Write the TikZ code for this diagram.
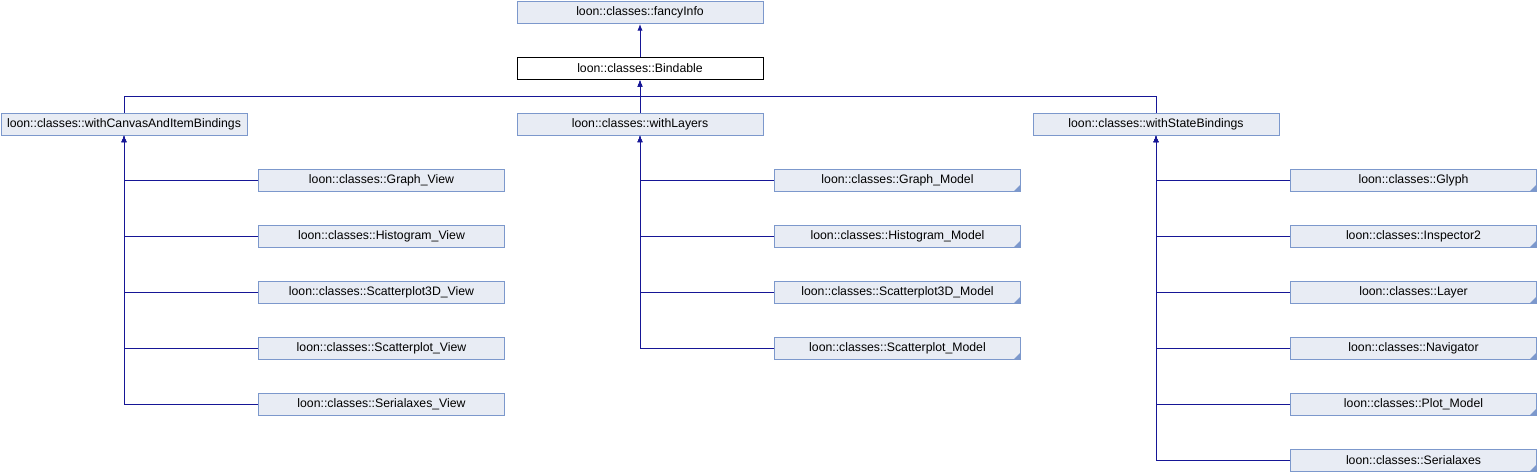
\documentclass[tikz,border=0pt]{standalone}
\usepackage{fontspec}
\setmainfont{Liberation Sans}
\usetikzlibrary{arrows.meta}
\definecolor{boxfill}{HTML}{E8ECF4}
\definecolor{boxdraw}{HTML}{7C98CC}
\definecolor{edgecol}{HTML}{161696}
\begin{document}
\begin{tikzpicture}[x=0.75pt,y=-0.75pt,
  cls/.style={draw=boxdraw,fill=boxfill,line width=0.75pt,rectangle,
    minimum width=246*0.75pt,minimum height=22*0.75pt,inner sep=0pt,
    font=\fontsize{9.2}{11}\selectfont},
  cur/.style={cls,draw=black,fill=white},
  trunc/.style={cls,path picture={\fill[boxdraw] (path picture bounding box.south east)
      -- ++(-4.8pt,0pt) -- ++(4.8pt,4.8pt) -- cycle;}},
  edge/.style={draw=edgecol,line width=0.75pt,-{Latex[length=5pt,width=4pt]}}]
\useasboundingbox (0,0) rectangle (1538,472);

\node[cls] (fancy) at (640,12.5) {loon::classes::fancyInfo};
\node[cur] (bind) at (640,68.5) {loon::classes::Bindable};

\node[cls] (wc) at (124,124) {loon::classes::withCanvasAndItemBindings};
\node[cls] (wl) at (640,124) {loon::classes::withLayers};
\node[cls] (ws) at (1156,124) {loon::classes::withStateBindings};

\node[cls] (gv) at (381.5,180) {loon::classes::Graph\_View};
\node[cls] (hv) at (381.5,236) {loon::classes::Histogram\_View};
\node[cls] (s3v) at (381.5,292) {loon::classes::Scatterplot3D\_View};
\node[cls] (sv) at (381.5,348) {loon::classes::Scatterplot\_View};
\node[cls] (sav) at (381.5,404) {loon::classes::Serialaxes\_View};

\node[trunc] (gm) at (897.5,180) {loon::classes::Graph\_Model};
\node[trunc] (hm) at (897.5,236) {loon::classes::Histogram\_Model};
\node[trunc] (s3m) at (897.5,292) {loon::classes::Scatterplot3D\_Model};
\node[trunc] (sm) at (897.5,348) {loon::classes::Scatterplot\_Model};

\node[trunc] (gl) at (1413.5,180) {loon::classes::Glyph};
\node[trunc] (in) at (1413.5,236) {loon::classes::Inspector2};
\node[trunc] (la) at (1413.5,292) {loon::classes::Layer};
\node[trunc] (na) at (1413.5,348) {loon::classes::Navigator};
\node[trunc] (pm) at (1413.5,404) {loon::classes::Plot\_Model};
\node[trunc] (se) at (1413.5,460) {loon::classes::Serialaxes};

\coordinate (bus) at (640,96.5);

\draw[edge] (bind.north) -- (fancy.south);
\draw[edge] (wc.north) |- (bus) -- (bind.south);
\draw[edge] (wl.north) -- (bind.south);
\draw[edge] (ws.north) |- (bus) -- (bind.south);

\foreach \n in {gv,hv,s3v,sv,sav} \draw[edge] (\n.west) -| (wc.south);
\foreach \n in {gm,hm,s3m,sm} \draw[edge] (\n.west) -| (wl.south);
\foreach \n in {gl,in,la,na,pm,se} \draw[edge] (\n.west) -| (ws.south);
\end{tikzpicture}
\end{document}
